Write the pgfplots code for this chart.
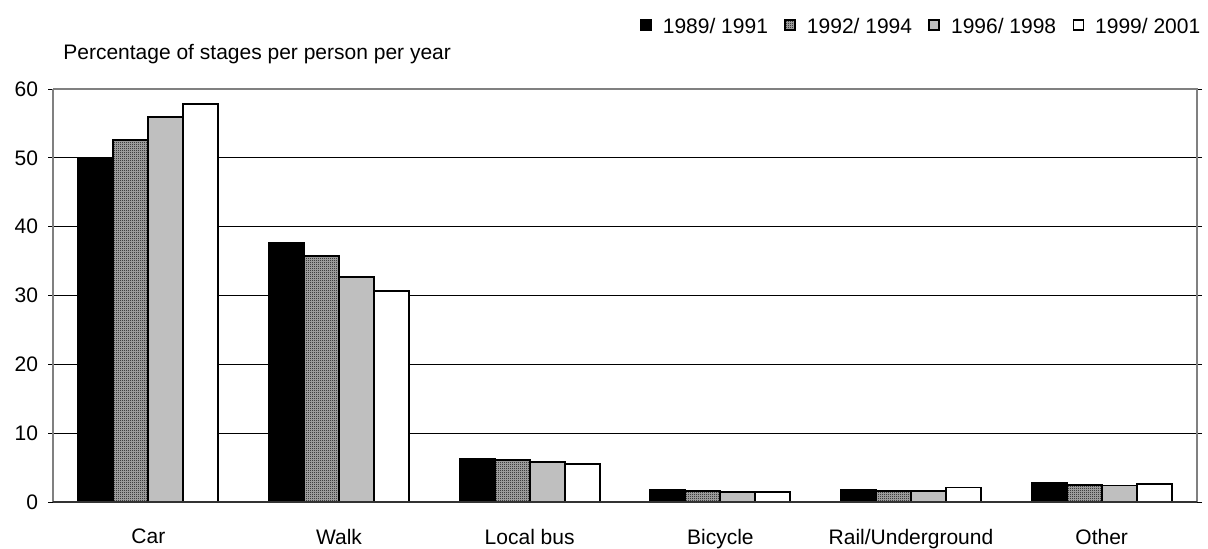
\documentclass[border=0pt]{standalone}
\usepackage{fontspec}
\setmainfont{Liberation Sans}
\usepackage{pgfplots}
\pgfplotsset{compat=1.18}
\usetikzlibrary{patterns}

% fine black checker used for the 1992/1994 series
\pgfdeclarepatternformonly{checker}{\pgfpointorigin}{\pgfpoint{1pt}{1pt}}{\pgfpoint{1pt}{1pt}}{%
  \pgfpathrectangle{\pgfpointorigin}{\pgfpoint{0.5pt}{0.5pt}}%
  \pgfpathrectangle{\pgfpoint{0.5pt}{0.5pt}}{\pgfpoint{0.5pt}{0.5pt}}%
  \pgfusepath{fill}}

\pgfplotstableread{
x  a     b     c     d
0  50.0  52.6  55.9  57.8
1  37.7  35.7  32.7  30.6
2  6.3   6.1   5.8   5.5
3  1.8   1.6   1.4   1.4
4  1.8   1.6   1.6   2.1
5  2.8   2.5   2.4   2.6
}\stages

\begin{document}
\begin{tikzpicture}[font=\fontsize{10.5}{12.6}\selectfont]
\path[use as bounding box] (-26.5pt,-23pt) rectangle (577.5pt,251pt);
\begin{axis}[
  at={(0,0)}, anchor=south west,
  scale only axis, width=572pt, height=206.5pt,
  clip=false,
  xmin=-0.5, xmax=5.5, ymin=0, ymax=60,
  ybar=0pt, bar width=17.5pt,
  xtick=data,
  xticklabels={Car,Walk,Local bus,Bicycle,Rail/Underground,Other},
  major x tick style={draw=none},
  ytick={0,10,...,60},
  tick align=outside, major tick length=2.5pt,
  y tick style={black, line width=0.4pt},
  ymajorgrids, major grid style={black, line width=0.5pt},
  axis line style={draw=none},
  /pgf/number format/assume math mode=true,
  ticklabel style={font=\fontsize{10.5}{12.6}\selectfont},
  xticklabel style={yshift=-7.5pt},
  yticklabel style={xshift=-1.5pt},
  legend columns=4,
  legend style={draw=none, fill=none, at={(0.513,1.15)}, anchor=west,
    inner sep=0pt, font=\fontsize{10.5}{12.6}\selectfont,
    /tikz/every odd column/.append style={column sep=3.5pt},
    /tikz/every even column/.append style={column sep=6.2pt}},
  legend image code/.code={\draw[#1, line width=0.8pt] (0pt,-1.5pt) rectangle (5pt,3.5pt);},
]
\addplot[fill=black, draw=black, line width=0.9pt] table[x=x,y=a] {\stages};
\addplot[fill=black!30, draw=black, line width=0.9pt, postaction={pattern=checker, pattern color=black}] table[x=x,y=b] {\stages};
\addplot[fill=black!25, draw=black, line width=0.9pt] table[x=x,y=c] {\stages};
\addplot[fill=white, draw=black, line width=0.9pt] table[x=x,y=d] {\stages};
\legend{1989/ 1991,1992/ 1994,1996/ 1998,1999/ 2001}
\draw[gray, line width=1pt] (rel axis cs:0,1) -- (rel axis cs:1,1) -- (rel axis cs:1,0);
\draw[gray, line width=0.6pt] (rel axis cs:0,0) -- (rel axis cs:0,1);
\draw[black!80, line width=0.6pt] (rel axis cs:0,0) -- (rel axis cs:1,0);
\node[anchor=west, inner sep=0pt] at (axis description cs:0.0087,1.085) {Percentage of stages per person per year};
\end{axis}
\end{tikzpicture}
\end{document}
